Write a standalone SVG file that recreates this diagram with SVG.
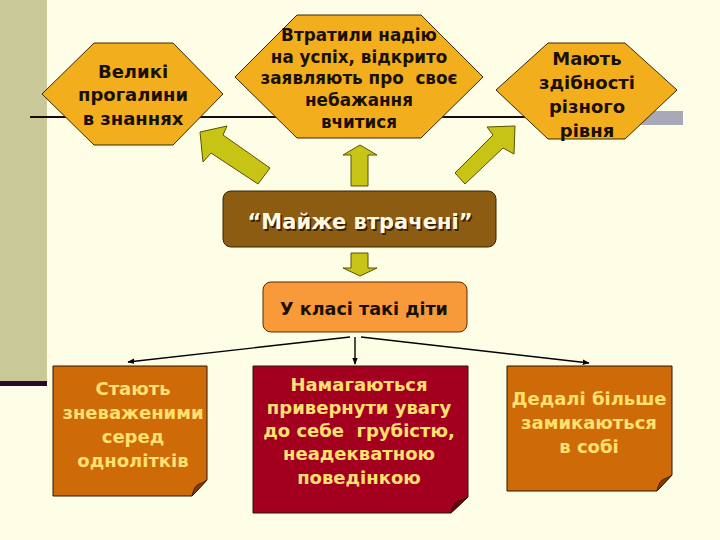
<svg xmlns="http://www.w3.org/2000/svg" width="720" height="540" viewBox="0 0 720 540">
<defs>
<marker id="ah" viewBox="0 0 10 10" refX="9" refY="5" markerWidth="7" markerHeight="7" orient="auto" markerUnits="userSpaceOnUse">
<path d="M0,1 L10,5 L0,9 Z" fill="#000"/>
</marker>
</defs>
<style>
.hex{fill:#F2AE1C;stroke:#3A2A00;stroke-width:1}
.ht{font-family:"DejaVu Sans",Verdana,sans-serif;font-weight:bold;fill:#1A1000;text-anchor:middle}
.arr{fill:#C8C416;stroke:#5A5200;stroke-width:1}
.note{stroke:#2A1400;stroke-width:1}
.nt{font-family:"DejaVu Sans",Verdana,sans-serif;font-weight:bold;fill:#FFE070;text-anchor:middle;font-size:18px}
.fold{fill:#8A3A00;stroke:#2A1400;stroke-width:0.8}
.con{stroke:#000;stroke-width:1.4;fill:none}
</style>
<rect width="720" height="540" fill="#FEFDE6"/>
<rect x="0" y="0" width="47" height="382" fill="#C8C898"/>
<rect x="0" y="381" width="47" height="5" fill="#2A0A2A"/>
<line x1="30" y1="117" x2="660" y2="117" stroke="#1A0A10" stroke-width="2"/>
<rect x="640" y="111" width="43" height="14" fill="#A8A8B8"/>

<g id="node-gaps">
<polygon class="hex" points="42,94 94,43 173,43 223,94 173,145 94,145"/>
<text class="ht" font-size="18" x="133"><tspan x="133" y="78">Великі</tspan><tspan x="133" y="101">прогалини</tspan><tspan x="133" y="125">в знаннях</tspan></text>
</g>
<g id="node-lost-hope">
<polygon class="hex" points="235,77 297,15 421,15 483,77 421,138 297,138"/>
<text class="ht" font-size="16.8" x="359"><tspan x="359" y="41">Втратили надію</tspan><tspan x="359" y="63">на успіх, відкрито</tspan><tspan x="359" y="84">заявляють про&#160; своє</tspan><tspan x="359" y="106">небажання</tspan><tspan x="359" y="128">вчитися</tspan></text>
</g>
<g id="node-abilities">
<polygon class="hex" points="496,90 548,43 625,43 677,90 625,139 548,139"/>
<text class="ht" font-size="18" x="587"><tspan x="587" y="65">Мають</tspan><tspan x="587" y="89">здібності</tspan><tspan x="587" y="113">різного</tspan><tspan x="587" y="137">рівня</tspan></text>
</g>

<g id="arrows-up">
<polygon class="arr" points="200,132 227,126 223,135 270,168 258,184 211,153 203,162"/>
<polygon class="arr" points="360,145 377,155 368,155 368,186 351,186 351,155 343,155"/>
<polygon class="arr" points="515,126 514,154 503,148 465,184 455,173 493,135 487,127"/>
</g>

<g id="node-almost-lost">
<rect x="223" y="191" width="273" height="56" rx="8" fill="#8C5C12" stroke="#3A2400" stroke-width="1"/>
<text x="360" y="229" font-family="'DejaVu Sans',Verdana,sans-serif" font-weight="bold" font-size="21" text-anchor="middle" fill="#3A2000" transform="translate(1.5,1.5)">“Майже втрачені”</text>
<text x="360" y="229" font-family="'DejaVu Sans',Verdana,sans-serif" font-weight="bold" font-size="21" text-anchor="middle" fill="#FFF8E0">“Майже втрачені”</text>
</g>

<g id="arrow-down">
<polygon class="arr" points="351,253 368,253 368,268 377,268 360,276 343,268 351,268"/>
</g>

<g id="node-class">
<rect x="263" y="282" width="204" height="50" rx="8" fill="#F99A3A" stroke="#5A2A00" stroke-width="1"/>
<text class="ht" font-size="17.6" x="364" y="315">У класі такі діти</text>
</g>

<g id="connectors">
<line class="con" x1="350" y1="337" x2="128" y2="362" marker-end="url(#ah)"/>
<line class="con" x1="355" y1="337" x2="355" y2="364" marker-end="url(#ah)"/>
<line class="con" x1="361" y1="337" x2="589" y2="363" marker-end="url(#ah)"/>
</g>

<g id="node-despised">
<polygon class="note" fill="#CF6A08" points="53,366 207,366 207,480 192,496 53,496"/>
<path class="fold" d="M207,480 L192,496 Q194,486 199,484 Q203,483 207,480 Z"/>
<text class="nt"><tspan x="133" y="395">Стають</tspan><tspan x="133" y="419">зневаженими</tspan><tspan x="133" y="443">серед</tspan><tspan x="133" y="467">однолітків</tspan></text>
</g>
<g id="node-attention">
<polygon class="note" fill="#A3001F" points="253,366 468,366 468,497 451,513 253,513"/>
<path class="fold" d="M468,497 L451,513 Q453,503 458,501 Q463,500 468,497 Z" style="fill:#6A0012"/>
<text class="nt"><tspan x="359" y="391">Намагаються</tspan><tspan x="359" y="414">привернути увагу</tspan><tspan x="359" y="437">до себе&#160; грубістю,</tspan><tspan x="359" y="460">неадекватною</tspan><tspan x="359" y="484">поведінкою</tspan></text>
</g>
<g id="node-withdrawn">
<polygon class="note" fill="#CF6A08" points="507,366 672,366 672,475 657,491 507,491"/>
<path class="fold" d="M672,475 L657,491 Q659,481 664,479 Q668,478 672,475 Z"/>
<text class="nt"><tspan x="589" y="405">Дедалі більше</tspan><tspan x="589" y="429">замикаються</tspan><tspan x="589" y="453">в собі</tspan></text>
</g>
</svg>
